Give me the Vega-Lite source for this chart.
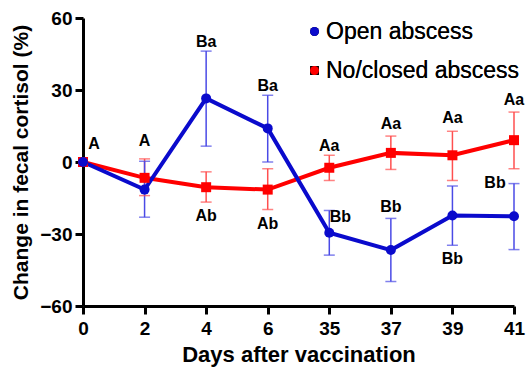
{
  "$schema": "https://vega.github.io/schema/vega-lite/v6.json",
  "width": 431,
  "height": 288,
  "autosize": "none",
  "padding": {"left": 83, "top": 18, "right": 14, "bottom": 66},
  "background": "white",
  "config": {
    "view": {"stroke": null},
    "font": "Liberation Sans",
    "axis": {
      "grid": false,
      "domainColor": "black",
      "domainWidth": 3,
      "tickColor": "black",
      "tickWidth": 3,
      "tickSize": 8,
      "labelFont": "Liberation Sans",
      "labelFontWeight": "bold",
      "labelFontSize": 19,
      "labelColor": "black",
      "titleFont": "Liberation Sans",
      "titleFontWeight": "bold",
      "titleColor": "black"
    },
    "legend": {
      "title": null,
      "orient": "none",
      "legendX": 220,
      "legendY": 2,
      "labelFontSize": 23,
      "labelFont": "Liberation Sans",
      "labelColor": "black",
      "labelLimit": 0,
      "symbolSize": 80,
      "symbolStrokeWidth": 0,
      "labelOffset": 0,
      "rowPadding": 15,
      "padding": 0
    }
  },
  "datasets": {
    "series": [
      {"group": "No/closed abscess", "day": "0", "mean": 0, "lo": null, "hi": null},
      {"group": "No/closed abscess", "day": "2", "mean": -6.6, "lo": -14, "hi": 1.3},
      {"group": "No/closed abscess", "day": "4", "mean": -10.5, "lo": -16.7, "hi": -4.1},
      {"group": "No/closed abscess", "day": "6", "mean": -11.5, "lo": -19.8, "hi": -2.8},
      {"group": "No/closed abscess", "day": "35", "mean": -2.4, "lo": -7.7, "hi": 2.8},
      {"group": "No/closed abscess", "day": "37", "mean": 3.8, "lo": -3.1, "hi": 10.8},
      {"group": "No/closed abscess", "day": "39", "mean": 2.8, "lo": -7.7, "hi": 12.8},
      {"group": "No/closed abscess", "day": "41", "mean": 9.1, "lo": -2.8, "hi": 20.8},
      {"group": "Open abscess", "day": "0", "mean": 0, "lo": null, "hi": null},
      {"group": "Open abscess", "day": "2", "mean": -11.5, "lo": -23, "hi": 0.3},
      {"group": "Open abscess", "day": "4", "mean": 26.5, "lo": 6.6, "hi": 46.2},
      {"group": "Open abscess", "day": "6", "mean": 14, "lo": 0, "hi": 27.8},
      {"group": "Open abscess", "day": "35", "mean": -29.5, "lo": -38.8, "hi": -20.2},
      {"group": "Open abscess", "day": "37", "mean": -36.7, "lo": -49.8, "hi": -23.5},
      {"group": "Open abscess", "day": "39", "mean": -22.3, "lo": -34.7, "hi": -10},
      {"group": "Open abscess", "day": "41", "mean": -22.6, "lo": -36.5, "hi": -9}
    ]
  },
  "encoding": {
    "x": {
      "field": "day",
      "type": "ordinal",
      "scale": {"type": "point", "padding": 0, "domain": ["0", "2", "4", "6", "35", "37", "39", "41"]},
      "axis": {"title": "Days after vaccination", "titleFontSize": 22, "labelAngle": 0, "labelPadding": 5, "titlePadding": 6}
    }
  },
  "layer": [
    {
      "mark": {"type": "rule", "color": "black", "strokeWidth": 4, "strokeDash": [0.01, 11.3], "strokeCap": "round", "strokeDashOffset": 1.4},
      "encoding": {"y": {"datum": 0, "type": "quantitative"}, "x": null}
    },
    {
      "data": {"name": "series"},
      "layer": [
        {
          "mark": {"type": "rule", "strokeWidth": 1.5},
          "encoding": {
            "y": {"field": "lo", "type": "quantitative"},
            "y2": {"field": "hi"},
            "color": {"field": "group", "type": "nominal", "scale": {"domain": ["Open abscess", "No/closed abscess"], "range": ["#4a4ae6", "#ff4f4f"]}, "legend": null}
          }
        },
        {
          "mark": {"type": "tick", "size": 11, "thickness": 1.5},
          "encoding": {
            "y": {"field": "lo", "type": "quantitative"},
            "color": {"field": "group", "type": "nominal", "scale": {"domain": ["Open abscess", "No/closed abscess"], "range": ["#4a4ae6", "#ff4f4f"]}, "legend": null}
          }
        },
        {
          "mark": {"type": "tick", "size": 11, "thickness": 1.5},
          "encoding": {
            "y": {"field": "hi", "type": "quantitative"},
            "color": {"field": "group", "type": "nominal", "scale": {"domain": ["Open abscess", "No/closed abscess"], "range": ["#4a4ae6", "#ff4f4f"]}, "legend": null}
          }
        },
        {
          "transform": [{"filter": "datum.group == 'No/closed abscess'"}],
          "mark": {"type": "line", "strokeWidth": 4, "color": "#ff0000"},
          "encoding": {"y": {"field": "mean", "type": "quantitative"}}
        },
        {
          "transform": [{"filter": "datum.group == 'Open abscess'"}],
          "mark": {"type": "line", "strokeWidth": 4, "color": "#0a0acc"},
          "encoding": {"y": {"field": "mean", "type": "quantitative"}}
        },
        {
          "mark": {"type": "point", "filled": true, "size": 100, "opacity": 1},
          "encoding": {
            "y": {
              "field": "mean",
              "type": "quantitative",
              "scale": {"domain": [-60, 60], "nice": false},
              "axis": {"values": [-60, -30, 0, 30, 60], "title": "Change in fecal cortisol (%)", "titleFontSize": 21, "labelPadding": 3, "titlePadding": 8}
            },
            "color": {
              "field": "group",
              "type": "nominal",
              "scale": {"domain": ["Open abscess", "No/closed abscess"], "range": ["#0a0acc", "#ff0000"]},
              "legend": {}
            },
            "shape": {
              "field": "group",
              "type": "nominal",
              "scale": {"domain": ["Open abscess", "No/closed abscess"], "range": ["circle", "square"]},
              "legend": {}
            }
          }
        }
      ],
      "resolve": {"scale": {"color": "independent"}}
    },
    {
      "data": {"values": [
        {"day": "2", "y": 8.7, "label": "A"},
        {"day": "4", "y": 49.9, "label": "Ba"},
        {"day": "6", "y": 31.6, "label": "Ba"},
        {"day": "4", "y": -22.6, "label": "Ab"},
        {"day": "6", "y": -26, "label": "Ab"},
        {"day": "35", "y": 6.6, "label": "Aa"},
        {"day": "37", "y": 15.9, "label": "Aa"},
        {"day": "39", "y": 18.4, "label": "Aa"},
        {"day": "41", "y": 26, "label": "Aa"},
        {"day": "37", "y": -18.8, "label": "Bb"},
        {"day": "39", "y": -40.3, "label": "Bb"}
      ]},
      "mark": {"type": "text", "fontSize": 16, "fontWeight": "bold", "font": "Liberation Sans", "color": "black", "baseline": "middle", "align": "center"},
      "encoding": {"y": {"field": "y", "type": "quantitative"}, "text": {"field": "label"}}
    },
    {
      "data": {"values": [
        {"day": "0", "y": 7.3, "label": "A"},
        {"day": "35", "y": -22.8, "label": "Bb"}
      ]},
      "mark": {"type": "text", "fontSize": 16, "fontWeight": "bold", "font": "Liberation Sans", "color": "black", "baseline": "middle", "align": "center", "dx": 11},
      "encoding": {"y": {"field": "y", "type": "quantitative"}, "text": {"field": "label"}}
    },
    {
      "data": {"values": [
        {"day": "41", "y": -8.7, "label": "Bb"}
      ]},
      "mark": {"type": "text", "fontSize": 16, "fontWeight": "bold", "font": "Liberation Sans", "color": "black", "baseline": "middle", "align": "center", "dx": -19},
      "encoding": {"y": {"field": "y", "type": "quantitative"}, "text": {"field": "label"}}
    }
  ]
}
